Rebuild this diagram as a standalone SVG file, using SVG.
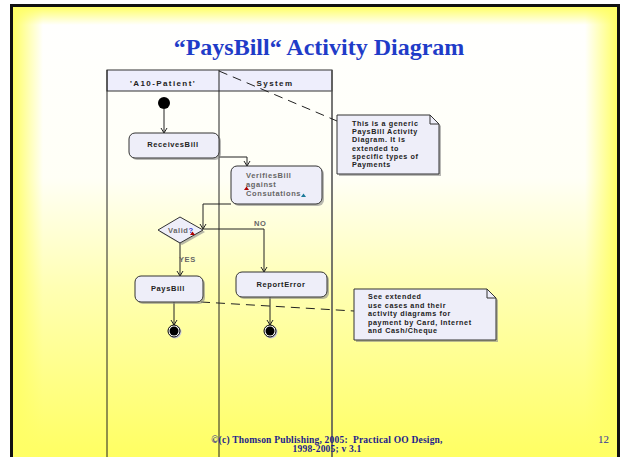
<svg xmlns="http://www.w3.org/2000/svg" width="620" height="457" viewBox="0 0 620 457">
<defs>
<linearGradient id="vg" x1="0" y1="0" x2="0" y2="1">
<stop offset="0" stop-color="#ffffff"/>
<stop offset="0.38" stop-color="#fffff6"/>
<stop offset="0.62" stop-color="#ffffb4"/>
<stop offset="1" stop-color="#ffff62"/>
</linearGradient>
<linearGradient id="lg" x1="0" y1="0" x2="1" y2="0">
<stop offset="0" stop-color="#ffff66" stop-opacity="1"/>
<stop offset="1" stop-color="#ffff66" stop-opacity="0"/>
</linearGradient>
<linearGradient id="rg" x1="1" y1="0" x2="0" y2="0">
<stop offset="0" stop-color="#ffff66" stop-opacity="1"/>
<stop offset="1" stop-color="#ffff66" stop-opacity="0"/>
</linearGradient>
<linearGradient id="tg" x1="0" y1="0" x2="0" y2="1">
<stop offset="0" stop-color="#ffff66" stop-opacity="1"/>
<stop offset="1" stop-color="#ffff66" stop-opacity="0"/>
</linearGradient>
<marker id="arr" markerWidth="8" markerHeight="8" refX="6" refY="4" orient="auto" markerUnits="userSpaceOnUse">
<path d="M1,1 L6,4 L1,7" fill="none" stroke="#222" stroke-width="1"/>
</marker>
<style>
.lbl{font-family:"Liberation Sans",Arial,sans-serif;font-weight:bold;font-size:7.5px;letter-spacing:0.6px;fill:#222}
.hdr{font-family:"Liberation Sans",Arial,sans-serif;font-weight:bold;font-size:8px;letter-spacing:1.4px;fill:#222}
.gray{font-family:"Liberation Sans",Arial,sans-serif;font-weight:bold;font-size:7.5px;letter-spacing:0.6px;fill:#666}
.note{font-family:"Liberation Sans",Arial,sans-serif;font-weight:bold;font-size:7.2px;letter-spacing:0.6px;fill:#222}
.box{fill:#eeeef9;stroke:#333;stroke-width:1}
.shadow{fill:#8a8a8a;opacity:0.6}
.conn{fill:none;stroke:#222;stroke-width:1}
.dash{fill:none;stroke:#222;stroke-width:1;stroke-dasharray:9,6}
.foot{font-family:"Liberation Serif","Times New Roman",serif;font-weight:bold;font-size:9.5px;letter-spacing:0.2px;fill:#1c1c8c}
</style>
</defs>

<!-- background -->
<rect x="0" y="0" width="620" height="457" fill="#ffffff"/>
<rect x="13" y="7" width="604" height="450" fill="url(#vg)"/>
<rect x="13" y="7" width="30" height="450" fill="url(#lg)"/>
<rect x="585" y="7" width="32" height="450" fill="url(#rg)"/>
<rect x="13" y="7" width="604" height="18" fill="url(#tg)"/>
<rect x="10" y="4" width="3" height="453" fill="#111"/>
<rect x="10" y="4" width="610" height="3" fill="#111"/>
<rect x="617" y="4" width="3" height="453" fill="#111"/>

<text x="319" y="55" text-anchor="middle" font-family="'Liberation Serif','Times New Roman',serif" font-weight="bold" font-size="24" fill="#1f3cc8">“PaysBill“ Activity Diagram</text>

<!-- swimlanes -->
<g id="lanes">
<rect x="107" y="70" width="225" height="21" fill="#eeeefc" stroke="#333" stroke-width="1"/>
<line x1="107" y1="70" x2="107" y2="457" stroke="#222" stroke-width="1"/>
<line x1="219" y1="70" x2="219" y2="457" stroke="#222" stroke-width="1"/>
<line x1="332" y1="70" x2="332" y2="457" stroke="#555" stroke-width="1.6"/>
<text class="hdr" x="163" y="86" text-anchor="middle">'A10-Patient'</text>
<text class="hdr" x="275" y="86" text-anchor="middle">System</text>
</g>

<!-- connectors -->
<g id="connectors">
<path class="conn" d="M164,109 L164,133" marker-end="url(#arr)"/>
<path class="conn" d="M219,157 L247,157 L247,166" marker-end="url(#arr)"/>
<path class="conn" d="M231,204 L203,204 L203,229" marker-end="url(#arr)"/>
<path class="conn" d="M203,229 L264,229 L264,272" marker-end="url(#arr)"/>
<path class="conn" d="M180,243 L180,276" marker-end="url(#arr)"/>
<path class="conn" d="M174,302 L174,325" marker-end="url(#arr)"/>
<path class="conn" d="M270,297 L270,325" marker-end="url(#arr)"/>
<path class="dash" d="M219,71 L337,121"/>
<path class="dash" d="M201,302 L354,311"/>
<text class="gray" x="254" y="226">NO</text>
<text class="gray" x="179" y="262">YES</text>
</g>

<g id="initial">
<circle cx="164" cy="103" r="6" fill="#000"/>
</g>

<g id="receivesBill">
<rect class="shadow" x="131" y="135" width="90" height="25" rx="6"/>
<rect class="box" x="129" y="133" width="90" height="25" rx="6"/>
<text class="lbl" x="173" y="147" text-anchor="middle">ReceivesBill</text>
</g>

<g id="verifiesBill">
<rect class="shadow" x="233" y="168" width="91" height="38" rx="6"/>
<rect class="box" x="231" y="166" width="91" height="38" rx="6"/>
<text class="gray" x="246" y="178">VerifiesBill</text>
<text class="gray" x="246" y="187">against</text>
<text class="gray" x="246" y="196">Consutations</text>
<path d="M244,190 L246.5,186.5 L249,190 Z" fill="#b00000"/>
<path d="M301,197 L303.5,193.5 L306,197 Z" fill="#1a7a9a"/>
</g>

<g id="valid">
<polygon points="160,232 182,219 205,232 182,245" class="shadow"/>
<polygon points="158,230 180,217 203,230 180,243" class="box"/>
<text class="gray" x="168" y="233">Valid<tspan fill="#3333cc">?</tspan></text>
<path d="M190,235 L192.5,231.5 L195,235 Z" fill="#b00000"/>
</g>

<g id="paysBill">
<rect class="shadow" x="137" y="278" width="68" height="26" rx="6"/>
<rect class="box" x="135" y="276" width="68" height="26" rx="6"/>
<text class="lbl" x="168" y="291" text-anchor="middle">PaysBill</text>
</g>

<g id="reportError">
<rect class="shadow" x="238" y="274" width="91" height="25" rx="6"/>
<rect class="box" x="236" y="272" width="91" height="25" rx="6"/>
<text class="lbl" x="281" y="287" text-anchor="middle">ReportError</text>
</g>

<g id="final1">
<circle cx="175" cy="332" r="6.5" fill="#c8c8d8"/>
<circle cx="174" cy="331" r="6" fill="#fff" stroke="#000" stroke-width="1"/>
<circle cx="174" cy="331" r="4.5" fill="#000"/>
</g>

<g id="final2">
<circle cx="271" cy="332" r="6.5" fill="#c8c8d8"/>
<circle cx="270" cy="331" r="6" fill="#fff" stroke="#000" stroke-width="1"/>
<circle cx="270" cy="331" r="4.5" fill="#000"/>
</g>

<g id="note1">
<path class="shadow" d="M339,117 L432,117 L441,126 L441,176 L339,176 Z"/>
<path class="box" d="M337,115 L430,115 L439,124 L439,174 L337,174 Z"/>
<path d="M430,115 L430,124 L439,124" fill="none" stroke="#333" stroke-width="1"/>
<text class="note" x="352" y="126">This is a generic</text>
<text class="note" x="352" y="134.2">PaysBill Activity</text>
<text class="note" x="352" y="142.4">Diagram. It is</text>
<text class="note" x="352" y="150.6">extended to</text>
<text class="note" x="352" y="158.8">specific types of</text>
<text class="note" x="352" y="167">Payments</text>
</g>

<g id="note2">
<path class="shadow" d="M356,291 L489,291 L498,300 L498,342 L356,342 Z"/>
<path class="box" d="M354,289 L487,289 L496,298 L496,340 L354,340 Z"/>
<path d="M487,289 L487,298 L496,298" fill="none" stroke="#333" stroke-width="1"/>
<text class="note" x="368" y="299">See extended</text>
<text class="note" x="368" y="307.5">use cases and their</text>
<text class="note" x="368" y="316">activity diagrams for</text>
<text class="note" x="368" y="324.5">payment by Card, Internet</text>
<text class="note" x="368" y="333">and Cash/Cheque</text>
</g>

<text class="foot" x="327" y="443" text-anchor="middle">©(c) Thomson Publishing, 2005:&#160; Practical OO Design,</text>
<text class="foot" x="327" y="452" text-anchor="middle">1998-2005; v 3.1</text>
<text x="598" y="443" font-family="'Liberation Serif','Times New Roman',serif" font-size="11" fill="#333399">12</text>
</svg>
